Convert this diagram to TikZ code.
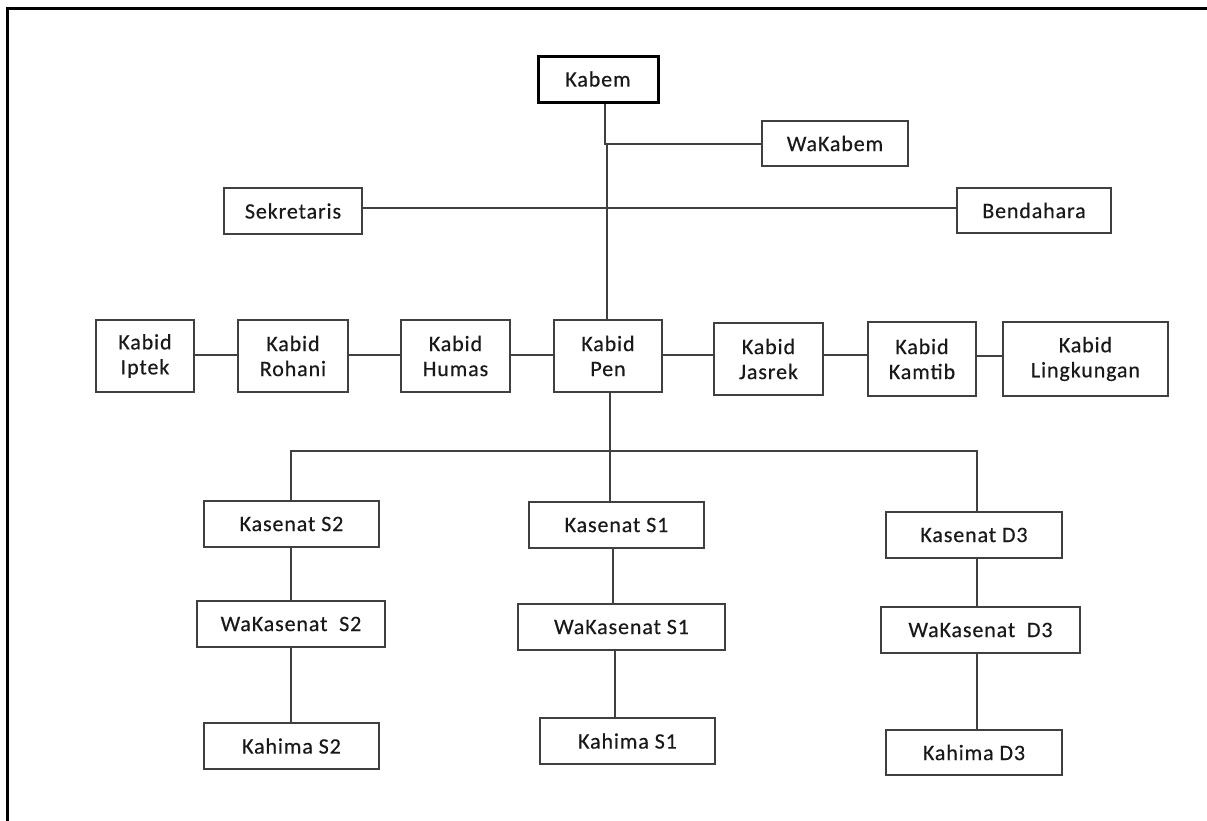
\documentclass[tikz,border=0pt]{standalone}
\usepackage{fontspec}
\setmainfont{Carlito}[LetterSpace=4,FakeBold=0.4]
\begin{document}
\begin{tikzpicture}[x=1pt,y=-1pt,
  box/.style={draw=black!75,line width=1.5pt,inner sep=0pt,align=center,
    font=\fontsize{22}{25}\selectfont,text=black!90},
  topbox/.style={box,draw=black,line width=3pt},
  conn/.style={draw=black!75,line width=1.4pt}]
\useasboundingbox (0,0) rectangle (1207,820);
\begin{scope}
\clip (0,0) rectangle (1207,820);
\draw[line width=3pt,black] (7.5,840) -- (7.5,8.5) -- (1230,8.5);
\end{scope}
% top
\node[topbox,minimum width=120pt,minimum height=46pt] (kabem) at (598,79) {Kabem};
\node[box,minimum width=146pt,minimum height=45pt] (wakabem) at (835,143.5) {WaKabem};
\node[box,minimum width=138pt,minimum height=46pt] (sek) at (293,211) {Sekretaris};
\node[box,minimum width=154pt,minimum height=45pt] (bend) at (1034,210.5) {Bendahara};
% kabid row
\node[box,minimum width=98pt,minimum height=72pt] (iptek) at (145,356) {Kabid\\Iptek};
\node[box,minimum width=110pt,minimum height=72pt] (rohani) at (293,356) {Kabid\\Rohani};
\node[box,minimum width=109pt,minimum height=72pt] (humas) at (455.5,356) {Kabid\\Humas};
\node[box,minimum width=108pt,minimum height=72pt] (pen) at (608,356) {Kabid\\Pen};
\node[box,minimum width=109pt,minimum height=72pt] (jasrek) at (768.5,359) {Kabid\\Jasrek};
\node[box,minimum width=108pt,minimum height=74pt] (kamtib) at (922,359) {Kabid\\Kamtib};
\node[box,minimum width=165pt,minimum height=74pt] (ling) at (1085.5,359) {Kabid\\Lingkungan};
% senat
\node[box,minimum width=175pt,minimum height=46pt] (ks2) at (291.5,524) {Kasenat S2};
\node[box,minimum width=175pt,minimum height=46pt] (ks1) at (616.5,525) {Kasenat S1};
\node[box,minimum width=176pt,minimum height=46pt] (kd3) at (974,535) {Kasenat D3};
\node[box,minimum width=188pt,minimum height=46pt] (ws2) at (291,624) {WaKasenat\ \ S2};
\node[box,minimum width=207pt,minimum height=46pt] (ws1) at (621.5,627) {WaKasenat S1};
\node[box,minimum width=199pt,minimum height=46pt] (wd3) at (980.5,630) {WaKasenat\ \ D3};
\node[box,minimum width=175pt,minimum height=46pt] (hs2) at (291.5,746) {Kahima S2};
\node[box,minimum width=175pt,minimum height=46pt] (hs1) at (627.5,741) {Kahima S1};
\node[box,minimum width=176pt,minimum height=45pt] (hd3) at (974,752.5) {Kahima D3};
% junctions
\coordinate (jA) at (605,144);
\coordinate (jA2) at (607,144);
\coordinate (jB) at (610,451);
\coordinate (cR) at (977,451);
\coordinate (cL) at (291,451);
\coordinate (c1) at (613,0);
\coordinate (c2) at (615,0);
% connectors
\draw[conn] (kabem.south -| jA) -- (jA) -- (wakabem.west |- jA);
\draw[conn] (jA2) -- (pen.north -| jA2);
\draw[conn] (sek.east |- 0,208) -- (bend.west |- 0,208);
\draw[conn] (iptek.east |- 0,355) -- (rohani.west |- 0,355);
\draw[conn] (rohani.east |- 0,355) -- (humas.west |- 0,355);
\draw[conn] (humas.east |- 0,355) -- (pen.west |- 0,355);
\draw[conn] (pen.east |- 0,355) -- (jasrek.west |- 0,355);
\draw[conn] (jasrek.east |- 0,355) -- (kamtib.west |- 0,355);
\draw[conn] (kamtib.east |- 0,356) -- (ling.west |- 0,356);
\draw[conn] (pen.south -| jB) -- (jB) -- (ks1.north -| jB);
\draw[conn] (ks2.north -| cL) -- (cL) -- (cR) -- (kd3.north -| cR);
\draw[conn] (ks2.south -| cL) -- (ws2.north -| cL);
\draw[conn] (ws2.south -| cL) -- (hs2.north -| cL);
\draw[conn] (ks1.south -| c1) -- (ws1.north -| c1);
\draw[conn] (ws1.south -| c2) -- (hs1.north -| c2);
\draw[conn] (kd3.south -| cR) -- (wd3.north -| cR);
\draw[conn] (wd3.south -| cR) -- (hd3.north -| cR);
\end{tikzpicture}
\end{document}
